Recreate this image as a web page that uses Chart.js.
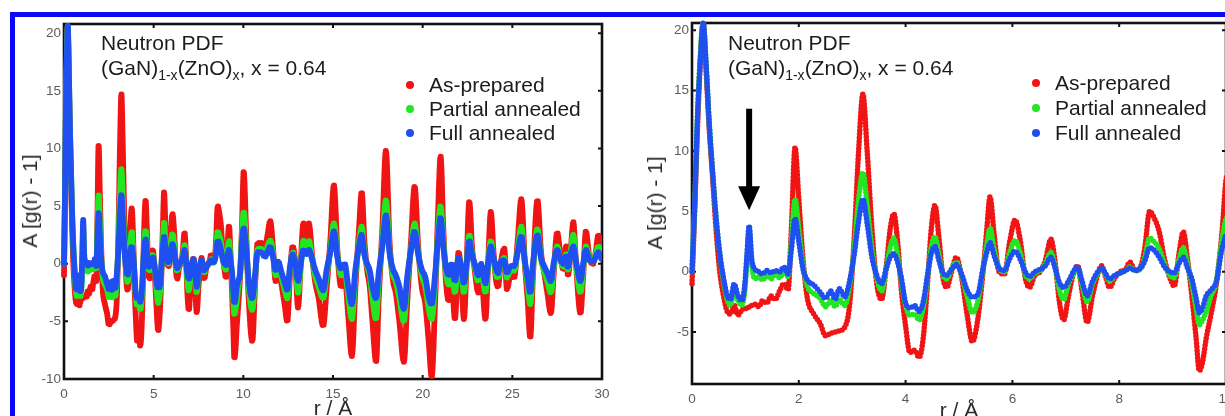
<!DOCTYPE html>
<html>
<head>
<meta charset="utf-8">
<script src="https://cdn.jsdelivr.net/npm/chart.js@4.4.1/dist/chart.umd.min.js"></script>
<style>
  html, body { margin: 0; padding: 0; background: #fff; }
  body { width: 1225px; height: 416px; overflow: hidden; position: relative;
         font-family: "Liberation Sans", Arial, sans-serif; }
  canvas { position: absolute; top: 0; }
  #frame { position: absolute; left: 10px; top: 12px; width: 1400px; height: 600px;
           border-left: 5px solid #0a0af2; border-top: 5px solid #0a0af2; pointer-events: none; }
  .note { position: absolute; font-size: 21px; color: #1c1c1c; white-space: nowrap; line-height: 24px; }
  .note sub { font-size: 14px; vertical-align: -5px; line-height: 0; }
  .ytitle { position: absolute; font-size: 21px; color: #2a2a2a; white-space: nowrap;
            transform: translate(-50%, -50%) rotate(-90deg); }
  .xtitle { position: absolute; font-size: 21px; color: #2a2a2a; white-space: nowrap;
            transform: translateX(-50%); line-height: 24px; }
  .key { position: absolute; font-size: 21px; color: #1c1c1c; white-space: nowrap; line-height: 24px; }
  .key i { position: absolute; width: 8px; height: 8px; border-radius: 50%; left: -23px; top: 8px; }
</style>
</head>
<body>
<canvas id="left" width="620" height="416" style="left:0"></canvas>
<canvas id="right" width="625" height="416" style="left:620px"></canvas>

<div class="ytitle" style="left:30px; top:201px">A [g(r) - 1]</div>
<div class="ytitle" style="left:655px; top:203px">A [g(r) - 1]</div>
<div class="xtitle" style="left:333px; top:396px">r / Å</div>
<div class="xtitle" style="left:959px; top:398px">r / Å</div>

<div class="note" style="left:101px; top:31px">Neutron PDF</div>
<div class="note" style="left:101px; top:56px">(GaN)<sub>1-x</sub>(ZnO)<sub>x</sub>, x = 0.64</div>
<div class="note" style="left:728px; top:31px">Neutron PDF</div>
<div class="note" style="left:728px; top:56px">(GaN)<sub>1-x</sub>(ZnO)<sub>x</sub>, x = 0.64</div>

<div class="key" style="left:429px; top:73px"><i style="background:#f01414"></i>As-prepared</div>
<div class="key" style="left:429px; top:97px"><i style="background:#22e622"></i>Partial annealed</div>
<div class="key" style="left:429px; top:121px"><i style="background:#1f4ff0"></i>Full annealed</div>
<div class="key" style="left:1055px; top:71px"><i style="background:#f01414"></i>As-prepared</div>
<div class="key" style="left:1055px; top:96px"><i style="background:#22e622"></i>Partial annealed</div>
<div class="key" style="left:1055px; top:121px"><i style="background:#1f4ff0"></i>Full annealed</div>

<div id="frame"></div>

<script>
// Pair distribution function A[g(r) - 1] of (GaN)1-x(ZnO)x, x = 0.64, from neutron data.
const r = [
  0, 0.05, 0.10, 0.15, 0.21, 0.26, 0.32, 0.39, 0.45, 0.52,
  0.59, 0.66, 0.72, 0.79, 0.86, 0.93, 0.99, 1.03, 1.07, 1.12,
  1.18, 1.25, 1.32, 1.40, 1.48, 1.56, 1.64, 1.72, 1.80, 1.86,
  1.93, 2.00, 2.08, 2.16, 2.28, 2.40, 2.50, 2.60, 2.68, 2.76,
  2.86, 2.95, 3.04, 3.12, 3.20, 3.28, 3.37, 3.46, 3.55, 3.64,
  3.71, 3.78, 3.85, 3.92, 4.00, 4.08, 4.17, 4.25, 4.33, 4.41,
  4.48, 4.55, 4.62, 4.70, 4.77, 4.86, 4.95, 5.05, 5.15, 5.25,
  5.35, 5.45, 5.52, 5.58, 5.66, 5.75, 5.85, 5.95, 6.05, 6.15,
  6.24, 6.32, 6.42, 6.52, 6.62, 6.72, 6.80, 6.88, 6.96, 7.05,
  7.14, 7.22, 7.30, 7.40, 7.50, 7.60, 7.67, 7.75, 7.82, 7.92,
  8.02, 8.12, 8.20, 8.30, 8.40, 8.48, 8.57, 8.65, 8.75, 8.85,
  8.95, 9.03, 9.12, 9.20, 9.28, 9.36, 9.44, 9.50, 9.56, 9.63,
  9.72, 9.82, 9.92, 10.02, 10.15, 10.30, 10.50, 10.65, 10.80, 11.00,
  11.20, 11.35, 11.50, 11.65, 11.80, 11.95, 12.10, 12.30, 12.45, 12.60,
  12.75, 12.90, 13.05, 13.20, 13.35, 13.50, 13.65, 13.85, 14.00, 14.20,
  14.45, 14.65, 14.85, 15.05, 15.25, 15.45, 15.65, 15.85, 16.05, 16.25,
  16.45, 16.60, 16.75, 16.90, 17.05, 17.20, 17.40, 17.55, 17.75, 17.95,
  18.15, 18.35, 18.50, 18.70, 18.95, 19.15, 19.35, 19.55, 19.75, 19.95,
  20.15, 20.35, 20.50, 20.70, 20.85, 21.00, 21.15, 21.30, 21.45, 21.60,
  21.80, 22.00, 22.15, 22.30, 22.45, 22.60, 22.75, 22.90, 23.10, 23.25,
  23.50, 23.65, 23.80, 23.95, 24.10, 24.20, 24.35, 24.55, 24.70, 24.90,
  25.10, 25.30, 25.50, 25.70, 25.85, 26.00, 26.15, 26.40, 26.60, 26.80,
  26.95, 27.15, 27.30, 27.50, 27.70, 27.85, 28.00, 28.10, 28.25, 28.40,
  28.55, 28.80, 28.95, 29.10, 29.30, 29.50, 29.65, 29.80, 30.00
];

const asPrepared = [
  -1.0, 5.0, 11.5, 17.0, 20.6, 17.0, 12.0, 7.5, 3.5, 0.0,
  -2.0, -3.3, -3.5, -2.8, -3.6, -3.2, -3.0, -3.1, -2.9, -2.8,
  -2.7, -2.9, -2.4, -2.6, -2.0, -2.3, -1.6, -1.0, -1.5, 3.5,
  10.3, 6.0, 1.0, -2.2, -3.5, -4.3, -5.3, -5.1, -5.0, -4.9,
  -4.6, -2.8, 3.0, 10.0, 14.7, 10.0, 3.5, -1.0, -2.3, 0.5,
  3.5, 4.8, 2.5, -1.5, -4.5, -6.7, -6.5, -7.1, -5.5, -1.0,
  3.5, 5.5, 3.0, -0.5, -1.3, 0.0, 1.2, -0.5, -3.5, -5.8,
  -4.0, 0.0, 3.5, 6.2, 3.0, 0.0, -0.2, 2.5, 4.3, 2.5,
  -0.5, -1.3, -0.3, 0.0, 1.0, 2.7, 0.8, -2.5, -4.0, -2.0,
  -0.2, 0.5, -1.5, -4.2, -2.0, -0.2, 0.5, -0.5, -1.3, -0.5,
  0.0, 0.2, 0.8, 0.1, 0.4, 2.0, 5.0, 4.5, 3.3, 1.0,
  -0.5, -1.2, 1.5, 3.3, 1.0, -2.0, -5.5, -8.2, -7.5, -5.5,
  -3.5, -1.0, 3.0, 8.0, 3.0, -3.0, -6.7, -2.0, 1.8, 1.8,
  1.2, 2.5, 3.7, 1.5, -1.5, 0.0, -1.5, -3.5, -5.0, -1.0,
  1.5, 0.0, -3.8, 0.0, 3.5, 2.0, 3.5, 0.5, -1.5, -3.0,
  -5.4, -2.0, 2.0, 6.8, 1.0, -2.0, -1.0, -4.5, -8.0, -2.0,
  3.0, 6.2, 2.0, -0.5, -2.0, -5.0, -8.5, -3.0, 3.0, 9.8,
  2.0, -1.5, -2.5, -5.0, -8.5, -3.0, 2.0, 6.7, 1.5, -2.0,
  -3.5, -7.0, -9.8, -3.0, 4.0, 9.3, 3.0, -1.5, -3.2, -1.0,
  -4.8, 1.0, -1.0, -4.8, 0.0, 5.4, 1.5, -0.5, -2.5, -0.5,
  -4.8, 0.0, 4.5, 1.0, -1.5, -2.0, 0.0, 1.3, -2.2, -1.0,
  -1.2, 2.0, 5.6, 0.0, -3.0, -6.4, -1.0, 5.5, 1.0, -1.0,
  -2.5, -4.3, -1.0, 2.7, 0.5, -0.5, 1.5, -1.0, 1.0, 3.6,
  0.0, -4.3, -1.0, 2.8, 0.5, 0.0, 1.0, 2.5, 0.5
];

const partialAnnealed = [
  0.0, 5.5, 12.5, 17.5, 20.6, 17.5, 12.5, 8.0, 4.5, 1.5,
  -0.8, -2.3, -2.8, -1.5, -2.4, -2.8, -1.5, 1.0, 3.3, 0.5,
  -0.6, -0.4, -0.7, -0.3, -0.6, -0.2, -0.5, 0.0, -0.4, 2.5,
  6.0, 3.5, 0.5, -1.2, -1.8, -2.2, -2.9, -2.4, -2.9, -2.3,
  -2.8, -1.2, 2.0, 6.0, 8.2, 5.5, 1.8, -0.5, -1.6, 0.3,
  2.0, 2.8, 1.3, -0.8, -2.8, -3.6, -3.5, -4.0, -3.0, -0.5,
  2.0, 2.9, 1.5, -0.3, -0.6, 0.2, 0.8, -0.3, -2.0, -3.4,
  -2.5, 0.2, 2.2, 3.6, 1.8, 0.3, 0.0, 1.6, 2.6, 1.5,
  -0.2, -0.6, -0.1, 0.1, 0.7, 1.6, 0.4, -1.5, -2.3, -1.0,
  -0.2, 0.3, -1.0, -2.5, -1.0, -0.1, 0.3, -0.3, -0.8, -0.3,
  -0.1, 0.1, 0.4, 0.1, 0.2, 1.2, 2.8, 2.5, 1.9, 0.6,
  -0.3, -0.5, 1.0, 2.0, 0.6, -1.0, -3.0, -4.4, -4.0, -3.3,
  -2.0, -0.8, 2.5, 4.5, 2.0, -2.0, -4.0, -1.5, 1.3, 1.3,
  0.8, 1.5, 2.0, 1.0, -1.0, 0.0, -1.0, -2.2, -3.0, -0.6,
  1.0, 0.0, -2.5, -0.3, 2.0, 1.2, 2.0, 0.3, -1.0, -2.0,
  -3.0, -1.0, 1.2, 3.5, 0.8, -1.0, -0.5, -2.8, -4.8, -1.0,
  1.8, 3.2, 1.0, -0.2, -1.0, -3.0, -4.8, -1.5, 2.0, 5.5,
  1.2, -1.0, -1.5, -3.0, -5.0, -1.5, 1.3, 3.5, 1.0, -1.0,
  -2.0, -4.0, -4.8, -1.5, 2.5, 5.0, 2.0, -0.8, -1.8, -0.5,
  -2.5, 0.5, -0.5, -2.5, 0.0, 2.5, 1.0, -0.2, -1.5, -0.3,
  -2.5, 0.0, 2.0, 0.5, -1.0, -1.2, 0.0, 0.5, -1.2, -0.5,
  -0.6, 1.2, 3.2, 0.0, -1.8, -3.5, -0.5, 3.0, 0.5, -0.8,
  -1.5, -2.5, -0.5, 1.5, 0.3, -0.3, 0.8, -0.5, 1.0, 2.5,
  0.0, -2.5, -0.5, 1.5, 0.4, 0.2, 0.8, 1.5, 0.5
];

const fullAnnealed = [
  0.0, 5.5, 12.5, 17.0, 20.6, 17.5, 12.5, 8.0, 4.5, 1.5,
  -0.5, -2.0, -2.3, -1.0, -2.0, -2.4, -1.0, 1.5, 3.8, 1.0,
  0.2, 0.0, -0.2, 0.1, -0.1, 0.1, 0.0, 0.4, -0.2, 1.8,
  4.4, 2.5, 0.2, -0.7, -1.1, -1.7, -2.2, -1.6, -2.3, -1.4,
  -2.1, -0.8, 1.5, 4.2, 6.0, 4.0, 1.2, -0.3, -1.0, 0.3,
  1.2, 1.5, 0.8, -0.5, -2.6, -3.0, -2.8, -3.3, -2.5, -0.3,
  1.5, 2.1, 1.0, -0.1, -0.3, 0.2, 0.6, -0.2, -1.5, -2.1,
  -1.9, 0.3, 1.6, 2.4, 1.3, 0.3, 0.1, 1.1, 1.7, 1.0,
  0.0, -0.4, 0.0, 0.2, 0.5, 1.2, 0.3, -0.9, -1.3, -0.8,
  0.0, 0.4, -0.7, -2.0, -0.8, 0.0, 0.3, -0.2, -0.6, -0.3,
  -0.1, 0.1, 0.3, 0.1, 0.3, 0.9, 2.0, 1.8, 1.2, 0.4,
  0.0, -0.1, 0.7, 1.2, 0.3, -0.6, -2.2, -3.4, -3.0, -2.0,
  -1.5, -0.8, 1.8, 3.1, 1.5, -1.5, -3.0, -1.0, 1.0, 1.0,
  0.6, 1.0, 1.5, 0.6, -0.6, 0.2, -0.6, -1.6, -2.3, -0.3,
  0.8, 0.0, -1.5, 0.0, 1.2, 0.8, 1.2, 0.3, -0.5, -1.3,
  -2.3, -0.5, 1.0, 2.8, 0.5, -0.4, 0.0, -2.0, -3.5, -0.5,
  1.5, 2.5, 0.8, 0.0, -0.6, -2.0, -3.0, -0.8, 1.5, 4.2,
  1.0, -0.5, -1.0, -2.0, -3.9, -1.0, 1.2, 2.8, 0.8, -0.5,
  -1.2, -3.0, -3.5, -0.8, 2.0, 4.0, 1.5, -0.3, -1.0, 0.0,
  -1.5, 0.5, -0.3, -1.7, 0.0, 2.0, 0.8, 0.0, -1.0, 0.0,
  -1.7, 0.0, 1.5, 0.5, -0.5, -0.8, 0.2, 0.3, -0.8, -0.2,
  -0.2, 1.0, 2.4, 0.2, -1.2, -2.5, 0.0, 2.5, 0.5, -0.3,
  -0.8, -1.5, 0.0, 1.2, 0.3, 0.0, 0.7, -0.3, 0.8, 1.5,
  0.2, -1.5, 0.0, 1.2, 0.3, 0.2, 0.6, 1.0, 0.3
];

// tick positions of the two panels
const xTicksWide = [0, 5, 10, 15, 20, 25, 30];
const yTicksWide = [-10, -5, 0, 5, 10, 15, 20];
const xTicksZoom = [0, 2, 4, 6, 8, 10];
const yTicksZoom = [-5, 0, 5, 10, 15, 20];

// peak at ~1.07 Å marked by the arrow in the zoomed panel
const arrowAt = 1.07, arrowFrom = 13.5, arrowTo = 5.1;

const seriesInfo = [
  { label: 'As-prepared',      values: asPrepared,      color: '#f01414', order: 3 },
  { label: 'Partial annealed', values: partialAnnealed, color: '#22e622', order: 2 },
  { label: 'Full annealed',    values: fullAnnealed,    color: '#1f4ff0', order: 1 }
];

const FONT = '"Liberation Sans", Arial, sans-serif';

// black box with inward tick marks on all four sides
const boxPlugin = {
  id: 'box',
  beforeDatasetsDraw(chart) {
    const { ctx, chartArea: a, scales: { x, y } } = chart;
    ctx.save();
    ctx.strokeStyle = '#111';
    ctx.lineWidth = 2.6;
    ctx.strokeRect(a.left, a.top, a.right - a.left, a.bottom - a.top);
    ctx.lineWidth = 2;
    const L = 4;
    ctx.beginPath();
    x.ticks.forEach(t => {
      const px = x.getPixelForValue(t.value);
      ctx.moveTo(px, a.bottom); ctx.lineTo(px, a.bottom - L);
      ctx.moveTo(px, a.top);    ctx.lineTo(px, a.top + L);
    });
    y.ticks.forEach(t => {
      const py = y.getPixelForValue(t.value);
      ctx.moveTo(a.left, py);  ctx.lineTo(a.left + L, py);
      ctx.moveTo(a.right, py); ctx.lineTo(a.right - L, py);
    });
    ctx.stroke();
    ctx.restore();
  }
};

// downward arrow placed through the scales
const arrowPlugin = {
  id: 'arrow',
  afterDatasetsDraw(chart, args, opts) {
    if (!opts.show) return;
    const { ctx, scales: { x, y } } = chart;
    const px = x.getPixelForValue(arrowAt);
    const top = y.getPixelForValue(arrowFrom);
    const tip = y.getPixelForValue(arrowTo);
    const headLen = 24, half = 11;
    ctx.save();
    ctx.fillStyle = '#000';
    ctx.fillRect(px - 3, top, 6, tip - headLen - top + 1);
    ctx.beginPath();
    ctx.moveTo(px - half, tip - headLen);
    ctx.lineTo(px + half, tip - headLen);
    ctx.lineTo(px, tip);
    ctx.closePath();
    ctx.fill();
    ctx.restore();
  }
};

function makePanel(id, p) {
  const datasets = seriesInfo.map(s => ({
    label: s.label,
    data: r.map((v, i) => ({ x: v, y: s.values[i] })),
    borderColor: s.color,
    backgroundColor: s.color,
    borderWidth: p.lineWidth,
    borderCapStyle: 'round',
    borderJoinStyle: 'round',
    borderDash: [0, p.dotGap],
    pointRadius: 0,
    cubicInterpolationMode: 'monotone',
    order: s.order,
    clip: { left: 5, top: 3, right: 0, bottom: 5 }
  }));
  const tickFont = { family: FONT, size: 13.5 };
  return new Chart(document.getElementById(id), {
    type: 'line',
    data: { datasets },
    plugins: [boxPlugin, arrowPlugin],
    options: {
      responsive: false,
      animation: false,
      devicePixelRatio: 1,
      events: [],
      layout: { padding: { left: 0, top: p.top, right: p.right, bottom: 0 } },
      plugins: { legend: { display: false }, tooltip: { enabled: false }, arrow: { show: p.arrow } },
      scales: {
        x: {
          type: 'linear', min: 0, max: p.xMax,
          afterBuildTicks: s => { s.ticks = p.xTicks.map(v => ({ value: v })); },
          afterFit: s => { s.height = p.xAxisHeight; },
          grid: { display: false, drawTicks: false },
          border: { display: false },
          ticks: { font: tickFont, color: '#5c5c5c', padding: 7, maxRotation: 0, autoSkip: false }
        },
        y: {
          type: 'linear', min: p.yMin, max: p.yMax,
          afterBuildTicks: s => { s.ticks = p.yTicks.map(v => ({ value: v })); },
          afterFit: s => { s.width = p.yAxisWidth; },
          grid: { display: false, drawTicks: false },
          border: { display: false },
          ticks: { font: tickFont, color: '#5c5c5c', padding: 3, autoSkip: false }
        }
      }
    }
  });
}

makePanel('left', {
  xMax: 30, yMin: -10, yMax: 20.8, xTicks: xTicksWide, yTicks: yTicksWide,
  top: 24, right: 18, yAxisWidth: 64, xAxisHeight: 37, lineWidth: 6, dotGap: 2.5, arrow: false
});
makePanel('right', {
  xMax: 10, yMin: -9.3, yMax: 20.6, xTicks: xTicksZoom, yTicks: yTicksZoom,
  top: 23, right: 19, yAxisWidth: 72, xAxisHeight: 32, lineWidth: 5.5, dotGap: 3.6, arrow: true
});
</script>
</body>
</html>
